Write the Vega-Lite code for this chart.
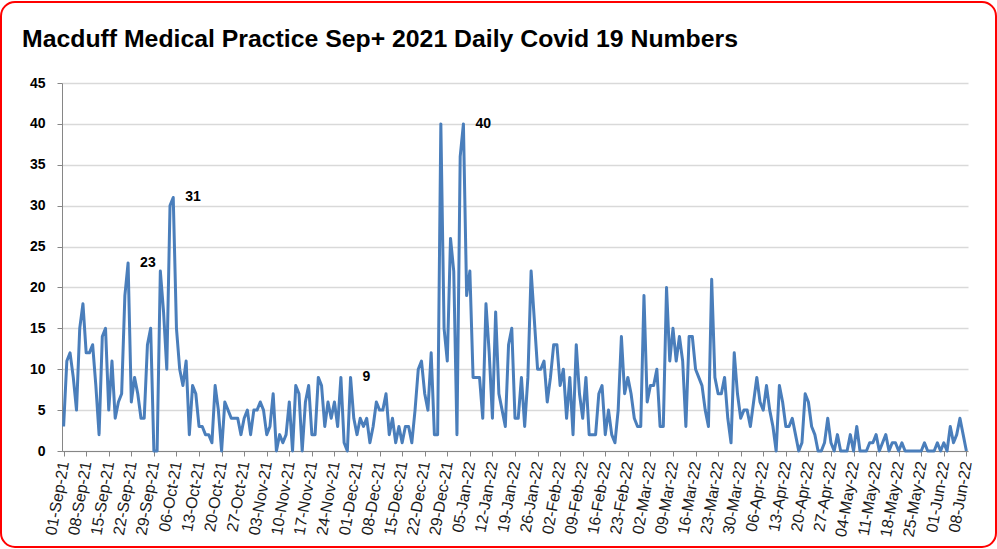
{
  "$schema": "https://vega.github.io/schema/vega-lite/v6.json",
  "width": 995,
  "height": 545,
  "autosize": {"type": "none"},
  "padding": {"left": 1, "top": 2, "right": 1, "bottom": 2},
  "background": "white",
  "title": {
    "text": "Macduff Medical Practice Sep+ 2021 Daily Covid 19 Numbers",
    "anchor": "start",
    "frame": "group",
    "font": "Liberation Sans",
    "fontSize": 24.8,
    "fontWeight": "bold",
    "color": "#000000",
    "baseline": "alphabetic",
    "offset": 0,
    "dx": 21,
    "dy": 70
  },
  "config": {
    "view": {"stroke": "#ff0000", "strokeWidth": 2, "cornerRadius": 14, "fill": "white"},
    "font": "Liberation Sans",
    "axis": {"labelFont": "Liberation Sans"}
  },
  "data": {
    "values": [
      {"date":"2021-09-01","cases":3},{"date":"2021-09-02","cases":11},{"date":"2021-09-03","cases":12},{"date":"2021-09-04","cases":9},{"date":"2021-09-05","cases":5},{"date":"2021-09-06","cases":15},{"date":"2021-09-07","cases":18},{"date":"2021-09-08","cases":12},{"date":"2021-09-09","cases":12},{"date":"2021-09-10","cases":13},
      {"date":"2021-09-11","cases":8},{"date":"2021-09-12","cases":2},{"date":"2021-09-13","cases":14},{"date":"2021-09-14","cases":15},{"date":"2021-09-15","cases":5},{"date":"2021-09-16","cases":11},{"date":"2021-09-17","cases":4},{"date":"2021-09-18","cases":6},{"date":"2021-09-19","cases":7},{"date":"2021-09-20","cases":19},
      {"date":"2021-09-21","cases":23,"label":"23"},{"date":"2021-09-22","cases":6},{"date":"2021-09-23","cases":9},{"date":"2021-09-24","cases":7},{"date":"2021-09-25","cases":4},{"date":"2021-09-26","cases":4},{"date":"2021-09-27","cases":13},{"date":"2021-09-28","cases":15},{"date":"2021-09-29","cases":0},{"date":"2021-09-30","cases":0},
      {"date":"2021-10-01","cases":22},{"date":"2021-10-02","cases":17},{"date":"2021-10-03","cases":10},{"date":"2021-10-04","cases":30},{"date":"2021-10-05","cases":31,"label":"31"},{"date":"2021-10-06","cases":15},{"date":"2021-10-07","cases":10},{"date":"2021-10-08","cases":8},{"date":"2021-10-09","cases":11},{"date":"2021-10-10","cases":2},
      {"date":"2021-10-11","cases":8},{"date":"2021-10-12","cases":7},{"date":"2021-10-13","cases":3},{"date":"2021-10-14","cases":3},{"date":"2021-10-15","cases":2},{"date":"2021-10-16","cases":2},{"date":"2021-10-17","cases":1},{"date":"2021-10-18","cases":8},{"date":"2021-10-19","cases":5},{"date":"2021-10-20","cases":0},
      {"date":"2021-10-21","cases":6},{"date":"2021-10-22","cases":5},{"date":"2021-10-23","cases":4},{"date":"2021-10-24","cases":4},{"date":"2021-10-25","cases":4},{"date":"2021-10-26","cases":2},{"date":"2021-10-27","cases":4},{"date":"2021-10-28","cases":5},{"date":"2021-10-29","cases":2},{"date":"2021-10-30","cases":5},{"date":"2021-10-31","cases":5},
      {"date":"2021-11-01","cases":6},{"date":"2021-11-02","cases":5},{"date":"2021-11-03","cases":2},{"date":"2021-11-04","cases":3},{"date":"2021-11-05","cases":7},{"date":"2021-11-06","cases":0},{"date":"2021-11-07","cases":2},{"date":"2021-11-08","cases":1},{"date":"2021-11-09","cases":2},{"date":"2021-11-10","cases":6},
      {"date":"2021-11-11","cases":0},{"date":"2021-11-12","cases":8},{"date":"2021-11-13","cases":7},{"date":"2021-11-14","cases":0},{"date":"2021-11-15","cases":6},{"date":"2021-11-16","cases":8},{"date":"2021-11-17","cases":2},{"date":"2021-11-18","cases":2},{"date":"2021-11-19","cases":9},{"date":"2021-11-20","cases":8},
      {"date":"2021-11-21","cases":3},{"date":"2021-11-22","cases":6},{"date":"2021-11-23","cases":4},{"date":"2021-11-24","cases":6},{"date":"2021-11-25","cases":3},{"date":"2021-11-26","cases":9},{"date":"2021-11-27","cases":1},{"date":"2021-11-28","cases":0},{"date":"2021-11-29","cases":9,"label":"9"},{"date":"2021-11-30","cases":4},
      {"date":"2021-12-01","cases":2},{"date":"2021-12-02","cases":4},{"date":"2021-12-03","cases":3},{"date":"2021-12-04","cases":4},{"date":"2021-12-05","cases":1},{"date":"2021-12-06","cases":3},{"date":"2021-12-07","cases":6},{"date":"2021-12-08","cases":5},{"date":"2021-12-09","cases":5},{"date":"2021-12-10","cases":7},
      {"date":"2021-12-11","cases":2},{"date":"2021-12-12","cases":4},{"date":"2021-12-13","cases":1},{"date":"2021-12-14","cases":3},{"date":"2021-12-15","cases":1},{"date":"2021-12-16","cases":3},{"date":"2021-12-17","cases":3},{"date":"2021-12-18","cases":1},{"date":"2021-12-19","cases":5},{"date":"2021-12-20","cases":10},
      {"date":"2021-12-21","cases":11},{"date":"2021-12-22","cases":7},{"date":"2021-12-23","cases":5},{"date":"2021-12-24","cases":12},{"date":"2021-12-25","cases":2},{"date":"2021-12-26","cases":2},{"date":"2021-12-27","cases":40},{"date":"2021-12-28","cases":15},{"date":"2021-12-29","cases":11},{"date":"2021-12-30","cases":26},{"date":"2021-12-31","cases":22},
      {"date":"2022-01-01","cases":2},{"date":"2022-01-02","cases":36},{"date":"2022-01-03","cases":40,"label":"40"},{"date":"2022-01-04","cases":19},{"date":"2022-01-05","cases":22},{"date":"2022-01-06","cases":9},{"date":"2022-01-07","cases":9},{"date":"2022-01-08","cases":9},{"date":"2022-01-09","cases":4},{"date":"2022-01-10","cases":18},
      {"date":"2022-01-11","cases":12},{"date":"2022-01-12","cases":4},{"date":"2022-01-13","cases":17},{"date":"2022-01-14","cases":7},{"date":"2022-01-15","cases":5},{"date":"2022-01-16","cases":3},{"date":"2022-01-17","cases":13},{"date":"2022-01-18","cases":15},{"date":"2022-01-19","cases":4},{"date":"2022-01-20","cases":4},
      {"date":"2022-01-21","cases":9},{"date":"2022-01-22","cases":3},{"date":"2022-01-23","cases":9},{"date":"2022-01-24","cases":22},{"date":"2022-01-25","cases":16},{"date":"2022-01-26","cases":10},{"date":"2022-01-27","cases":10},{"date":"2022-01-28","cases":11},{"date":"2022-01-29","cases":6},{"date":"2022-01-30","cases":9},{"date":"2022-01-31","cases":13},
      {"date":"2022-02-01","cases":13},{"date":"2022-02-02","cases":8},{"date":"2022-02-03","cases":10},{"date":"2022-02-04","cases":4},{"date":"2022-02-05","cases":9},{"date":"2022-02-06","cases":2},{"date":"2022-02-07","cases":13},{"date":"2022-02-08","cases":7},{"date":"2022-02-09","cases":4},{"date":"2022-02-10","cases":9},
      {"date":"2022-02-11","cases":2},{"date":"2022-02-12","cases":2},{"date":"2022-02-13","cases":2},{"date":"2022-02-14","cases":7},{"date":"2022-02-15","cases":8},{"date":"2022-02-16","cases":2},{"date":"2022-02-17","cases":5},{"date":"2022-02-18","cases":2},{"date":"2022-02-19","cases":1},{"date":"2022-02-20","cases":5},
      {"date":"2022-02-21","cases":14},{"date":"2022-02-22","cases":7},{"date":"2022-02-23","cases":9},{"date":"2022-02-24","cases":7},{"date":"2022-02-25","cases":4},{"date":"2022-02-26","cases":3},{"date":"2022-02-27","cases":3},{"date":"2022-02-28","cases":19},
      {"date":"2022-03-01","cases":6},{"date":"2022-03-02","cases":8},{"date":"2022-03-03","cases":8},{"date":"2022-03-04","cases":10},{"date":"2022-03-05","cases":3},{"date":"2022-03-06","cases":3},{"date":"2022-03-07","cases":20},{"date":"2022-03-08","cases":11},{"date":"2022-03-09","cases":15},{"date":"2022-03-10","cases":11},
      {"date":"2022-03-11","cases":14},{"date":"2022-03-12","cases":11},{"date":"2022-03-13","cases":3},{"date":"2022-03-14","cases":14},{"date":"2022-03-15","cases":14},{"date":"2022-03-16","cases":10},{"date":"2022-03-17","cases":9},{"date":"2022-03-18","cases":8},{"date":"2022-03-19","cases":5},{"date":"2022-03-20","cases":3},
      {"date":"2022-03-21","cases":21},{"date":"2022-03-22","cases":9},{"date":"2022-03-23","cases":7},{"date":"2022-03-24","cases":7},{"date":"2022-03-25","cases":9},{"date":"2022-03-26","cases":4},{"date":"2022-03-27","cases":1},{"date":"2022-03-28","cases":12},{"date":"2022-03-29","cases":7},{"date":"2022-03-30","cases":4},{"date":"2022-03-31","cases":5},
      {"date":"2022-04-01","cases":5},{"date":"2022-04-02","cases":3},{"date":"2022-04-03","cases":6},{"date":"2022-04-04","cases":9},{"date":"2022-04-05","cases":6},{"date":"2022-04-06","cases":5},{"date":"2022-04-07","cases":8},{"date":"2022-04-08","cases":5},{"date":"2022-04-09","cases":3},{"date":"2022-04-10","cases":0},
      {"date":"2022-04-11","cases":8},{"date":"2022-04-12","cases":6},{"date":"2022-04-13","cases":3},{"date":"2022-04-14","cases":3},{"date":"2022-04-15","cases":4},{"date":"2022-04-16","cases":2},{"date":"2022-04-17","cases":0},{"date":"2022-04-18","cases":1},{"date":"2022-04-19","cases":7},{"date":"2022-04-20","cases":6},
      {"date":"2022-04-21","cases":3},{"date":"2022-04-22","cases":2},{"date":"2022-04-23","cases":0},{"date":"2022-04-24","cases":0},{"date":"2022-04-25","cases":1},{"date":"2022-04-26","cases":4},{"date":"2022-04-27","cases":1},{"date":"2022-04-28","cases":0},{"date":"2022-04-29","cases":2},{"date":"2022-04-30","cases":0},
      {"date":"2022-05-01","cases":0},{"date":"2022-05-02","cases":0},{"date":"2022-05-03","cases":2},{"date":"2022-05-04","cases":0},{"date":"2022-05-05","cases":3},{"date":"2022-05-06","cases":0},{"date":"2022-05-07","cases":0},{"date":"2022-05-08","cases":0},{"date":"2022-05-09","cases":1},{"date":"2022-05-10","cases":1},
      {"date":"2022-05-11","cases":2},{"date":"2022-05-12","cases":0},{"date":"2022-05-13","cases":1},{"date":"2022-05-14","cases":2},{"date":"2022-05-15","cases":0},{"date":"2022-05-16","cases":1},{"date":"2022-05-17","cases":1},{"date":"2022-05-18","cases":0},{"date":"2022-05-19","cases":1},{"date":"2022-05-20","cases":0},
      {"date":"2022-05-21","cases":0},{"date":"2022-05-22","cases":0},{"date":"2022-05-23","cases":0},{"date":"2022-05-24","cases":0},{"date":"2022-05-25","cases":0},{"date":"2022-05-26","cases":1},{"date":"2022-05-27","cases":0},{"date":"2022-05-28","cases":0},{"date":"2022-05-29","cases":0},{"date":"2022-05-30","cases":1},{"date":"2022-05-31","cases":0},
      {"date":"2022-06-01","cases":1},{"date":"2022-06-02","cases":0},{"date":"2022-06-03","cases":3},{"date":"2022-06-04","cases":1},{"date":"2022-06-05","cases":2},{"date":"2022-06-06","cases":4},{"date":"2022-06-07","cases":2},{"date":"2022-06-08","cases":0}
    ]
  },
  "encoding": {
    "x": {
      "field": "date",
      "type": "temporal",
      "scale": {
        "type": "utc",
        "domain": [
          {"year": 2021, "month": 8, "date": 31, "hours": 12, "utc": true},
          {"year": 2022, "month": 6, "date": 8, "hours": 12, "utc": true}
        ],
        "range": [61, 967],
        "nice": false
      },
      "axis": {
        "title": null,
        "orient": "bottom",
        "offset": -96,
        "grid": false,
        "values": [
          {"year":2021,"month":9,"date":1,"utc":true},{"year":2021,"month":9,"date":8,"utc":true},{"year":2021,"month":9,"date":15,"utc":true},{"year":2021,"month":9,"date":22,"utc":true},{"year":2021,"month":9,"date":29,"utc":true},
          {"year":2021,"month":10,"date":6,"utc":true},{"year":2021,"month":10,"date":13,"utc":true},{"year":2021,"month":10,"date":20,"utc":true},{"year":2021,"month":10,"date":27,"utc":true},
          {"year":2021,"month":11,"date":3,"utc":true},{"year":2021,"month":11,"date":10,"utc":true},{"year":2021,"month":11,"date":17,"utc":true},{"year":2021,"month":11,"date":24,"utc":true},
          {"year":2021,"month":12,"date":1,"utc":true},{"year":2021,"month":12,"date":8,"utc":true},{"year":2021,"month":12,"date":15,"utc":true},{"year":2021,"month":12,"date":22,"utc":true},{"year":2021,"month":12,"date":29,"utc":true},
          {"year":2022,"month":1,"date":5,"utc":true},{"year":2022,"month":1,"date":12,"utc":true},{"year":2022,"month":1,"date":19,"utc":true},{"year":2022,"month":1,"date":26,"utc":true},
          {"year":2022,"month":2,"date":2,"utc":true},{"year":2022,"month":2,"date":9,"utc":true},{"year":2022,"month":2,"date":16,"utc":true},{"year":2022,"month":2,"date":23,"utc":true},
          {"year":2022,"month":3,"date":2,"utc":true},{"year":2022,"month":3,"date":9,"utc":true},{"year":2022,"month":3,"date":16,"utc":true},{"year":2022,"month":3,"date":23,"utc":true},{"year":2022,"month":3,"date":30,"utc":true},
          {"year":2022,"month":4,"date":6,"utc":true},{"year":2022,"month":4,"date":13,"utc":true},{"year":2022,"month":4,"date":20,"utc":true},{"year":2022,"month":4,"date":27,"utc":true},
          {"year":2022,"month":5,"date":4,"utc":true},{"year":2022,"month":5,"date":11,"utc":true},{"year":2022,"month":5,"date":18,"utc":true},{"year":2022,"month":5,"date":25,"utc":true},
          {"year":2022,"month":6,"date":1,"utc":true},{"year":2022,"month":6,"date":8,"utc":true}
        ],
        "labelExpr": "utcFormat(datum.value, '%d-%b-%y')",
        "labelAngle": -80,
        "labelFontSize": 16,
        "labelColor": "#1a1a1a",
        "labelPadding": 5,
        "labelOverlap": false,
        "labelFlush": false,
        "tickSize": 5,
        "tickColor": "#868686",
        "domainColor": "#868686",
        "domainWidth": 1
      }
    },
    "y": {
      "field": "cases",
      "type": "quantitative",
      "scale": {"domain": [0, 45], "range": [449, 81], "nice": false, "zero": true},
      "axis": {
        "title": null,
        "orient": "left",
        "offset": -61,
        "values": [0, 5, 10, 15, 20, 25, 30, 35, 40, 45],
        "labelFontSize": 14,
        "labelFontWeight": "bold",
        "labelColor": "#000000",
        "labelPadding": 12,
        "tickSize": 5,
        "tickColor": "#868686",
        "domainColor": "#868686",
        "domainWidth": 1,
        "grid": true,
        "gridColor": "#d9d9d9",
        "gridWidth": 1.5
      }
    }
  },
  "layer": [
    {
      "mark": {"type": "line", "color": "#4a7ebb", "strokeWidth": 3, "strokeJoin": "round"}
    },
    {
      "transform": [{"filter": "isValid(datum.label)"}],
      "mark": {"type": "text", "align": "left", "baseline": "middle", "dx": 12, "fontSize": 14, "fontWeight": "bold", "color": "#000000"},
      "encoding": {"text": {"field": "label"}}
    }
  ]
}
